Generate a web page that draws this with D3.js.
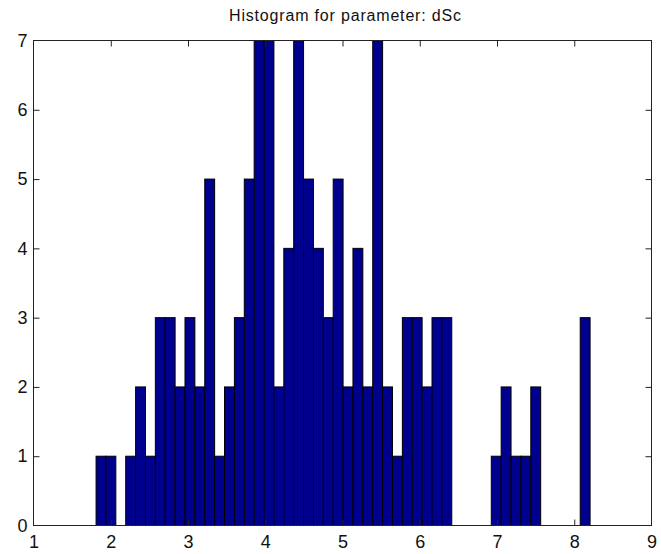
<!DOCTYPE html>
<html>
<head>
<meta charset="utf-8">
<script src="https://cdn.jsdelivr.net/npm/d3@7"></script>
<style>
  html, body { margin: 0; padding: 0; background: #fff; }
  svg { display: block; }
  text { font-family: "Liberation Sans", Arial, Helvetica, sans-serif; fill: #111; }
</style>
</head>
<body>
<svg id="chart" width="661" height="554"></svg>
<script>
// ---- data ----
const title = "Histogram for parameter: dSc";
const binRangeStart = 1.81;   // left edge of first bin
const binRangeEnd = 8.205;    // right edge of last bin
const counts = [1,1,0,1,2,1,3,3,2,3,2,5,1,2,3,5,7,7,2,4,7,5,4,3,5,2,4,2,7,2,1,3,3,2,3,3,0,0,0,0,1,2,1,1,2,0,0,0,0,3];
const xTicks = [1,2,3,4,5,6,7,8,9];
const yTicks = [0,1,2,3,4,5,6,7];
const xDomain = [1, 9];
const yDomain = [0, 7];

(function () {
  // ---- layout ----
  const mL = 33.5, mR = 651.5, mT = 40.5, mB = 525.5;
  const svg = d3.select("#chart");
  const x = d3.scaleLinear().domain(xDomain).range([mL, mR]);
  const y = d3.scaleLinear().domain(yDomain).range([mB, mT]);

  const binW = (binRangeEnd - binRangeStart) / counts.length;
  const bins = counts.map((c, i) => ({x0: binRangeStart + i * binW, x1: binRangeStart + (i + 1) * binW, c}));

  svg.append("rect").attr("x", mL).attr("y", mT).attr("width", mR - mL).attr("height", mB - mT).attr("fill", "#fff");

  svg.append("clipPath").attr("id", "clip").append("rect")
    .attr("x", mL).attr("y", mT).attr("width", mR - mL).attr("height", mB - mT);

  svg.append("g").attr("clip-path", "url(#clip)")
    .selectAll("rect").data(bins.filter(d => d.c > 0)).join("rect")
    .attr("x", d => x(d.x0))
    .attr("y", d => y(d.c))
    .attr("width", d => x(d.x1) - x(d.x0))
    .attr("height", d => y(0) - y(d.c))
    .attr("fill", "#00008f")
    .attr("stroke", "#000")
    .attr("stroke-width", 1);

  const tickLen = 6;
  const gx = svg.append("g").attr("transform", `translate(0,${mB})`)
    .call(d3.axisBottom(x).tickValues(xTicks).tickSize(-tickLen).tickPadding(10).tickFormat(d3.format("d")));
  const gxt = svg.append("g").attr("transform", `translate(0,${mT})`)
    .call(d3.axisTop(x).tickValues(xTicks).tickSize(-tickLen).tickFormat(""));
  const gy = svg.append("g").attr("transform", `translate(${mL},0)`)
    .call(d3.axisLeft(y).tickValues(yTicks).tickSize(-tickLen).tickPadding(6).tickFormat(d3.format("d")));
  const gyr = svg.append("g").attr("transform", `translate(${mR},0)`)
    .call(d3.axisRight(y).tickValues(yTicks).tickSize(-tickLen).tickFormat(""));

  [gx, gxt, gy, gyr].forEach(g => {
    g.select(".domain").remove();
    g.selectAll(".tick line").attr("stroke", "#222").attr("stroke-width", 1);
    g.selectAll("text").attr("font-size", 18).attr("fill", "#111")
      .attr("font-family", "'Liberation Sans', Arial, sans-serif");
  });
  gx.selectAll(".tick").filter(d => d === 1 || d === 9).select("line").remove();
  gxt.selectAll(".tick").filter(d => d === 1 || d === 9).select("line").remove();
  gy.selectAll(".tick").filter(d => d === 0 || d === 7).select("line").remove();
  gyr.selectAll(".tick").filter(d => d === 0 || d === 7).select("line").remove();

  svg.append("rect").attr("x", mL).attr("y", mT).attr("width", mR - mL).attr("height", mB - mT)
    .attr("fill", "none").attr("stroke", "#222").attr("stroke-width", 1);

  svg.append("text").attr("x", 345).attr("y", 21)
    .attr("text-anchor", "middle").attr("font-size", 16)
    .attr("textLength", 232).attr("lengthAdjust", "spacing").text(title);
})();
</script>
</body>
</html>
